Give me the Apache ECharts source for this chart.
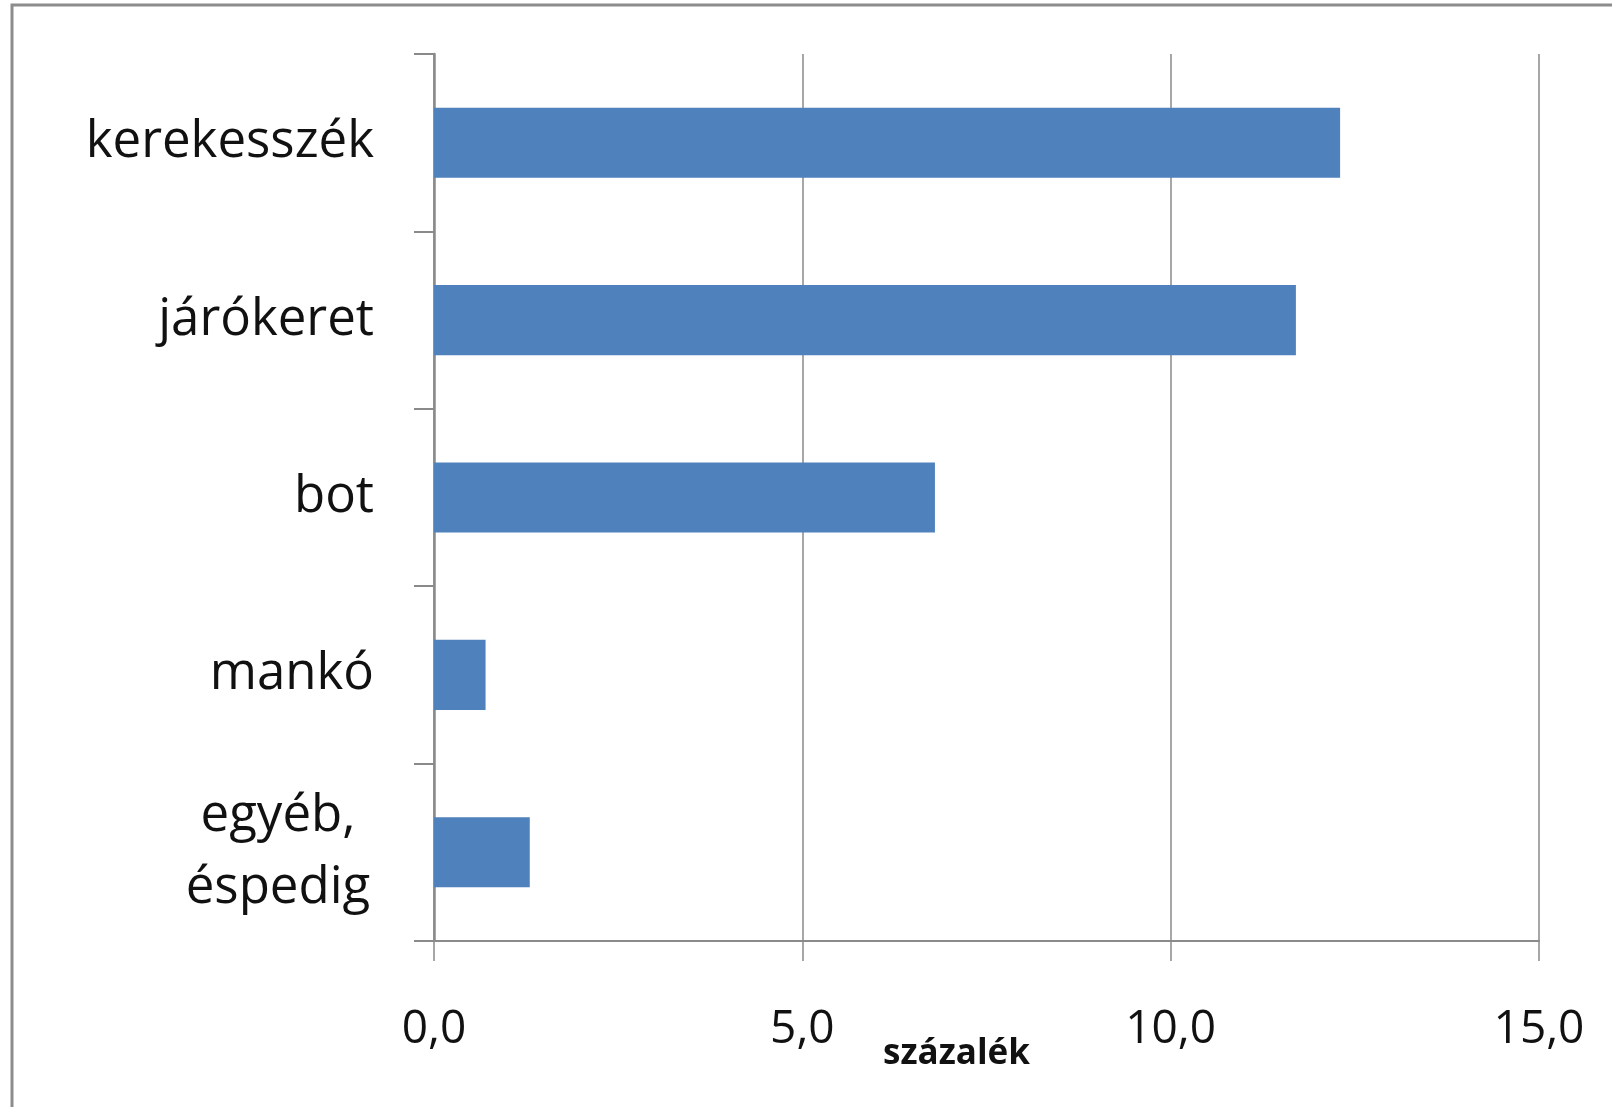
<!DOCTYPE html>
<html><head><meta charset="utf-8">
<script src="https://cdn.jsdelivr.net/npm/echarts@6/dist/echarts.min.js"></script>
<style>html,body{margin:0;padding:0;background:#fff}#c{width:1612px;height:1107px}</style>
</head><body><div id="c"></div>
<script>
const categories = ['kerekesszék', 'járókeret', 'bot', 'mankó', 'egyéb,\néspedig'];
const values = [12.3, 11.7, 6.8, 0.7, 1.3];
const xTicks = [0, 5, 10, 15];
const axisName = 'százalék';

const chart = echarts.init(document.getElementById('c'), null, {renderer: 'canvas'});
chart.setOption({
  animation: false,
  backgroundColor: '#fff',
  graphic: [{
    type: 'rect', shape: {x: 12, y: 5, width: 1700, height: 1200},
    style: {fill: 'none', stroke: '#8c8c8c', lineWidth: 3}, silent: true
  }],
  grid: {left: 434, top: 54, right: 73, bottom: 166},
  xAxis: {
    type: 'value', min: xTicks[0], max: xTicks[xTicks.length - 1], interval: 5,
    name: axisName, nameLocation: 'middle', nameGap: 96, nameMoveOverlap: false,
    nameTextStyle: {fontFamily: 'Open Sans', fontSize: 35, fontWeight: 'bold', color: '#111', padding: [0, 60, 0, 0]},
    axisLine: {show: true, lineStyle: {color: '#8a8a8a', width: 2}},
    axisTick: {show: true, length: 20, lineStyle: {color: '#8a8a8a', width: 1.5}},
    splitLine: {show: true, lineStyle: {color: '#8a8a8a', width: 1.5}},
    axisLabel: {margin: 66, fontFamily: 'Open Sans', fontSize: 46, color: '#111',
      formatter: v => v.toFixed(1).replace('.', ',')}
  },
  yAxis: {
    type: 'category', data: categories, inverse: true,
    axisLine: {show: true, lineStyle: {color: '#8a8a8a', width: 2.5}},
    axisTick: {show: true, length: 20, alignWithLabel: false, lineStyle: {color: '#8a8a8a', width: 2}},
    splitLine: {show: false},
    axisLabel: {margin: 60, fontFamily: 'Open Sans', fontSize: 51, lineHeight: 72, color: '#111', align: 'right',
      formatter: v => v.indexOf('\n') >= 0 ? v.split('\n').map(s => '{m|' + s + '}').join('\n') : v,
      rich: {m: {width: 192, align: 'center', fontFamily: 'Open Sans', fontSize: 51, lineHeight: 72, color: '#111'}}
    }
  },
  series: [{
    type: 'bar', data: values, barWidth: '39.5%',
    itemStyle: {color: '#4F81BD'}
  }]
});
</script></body></html>
